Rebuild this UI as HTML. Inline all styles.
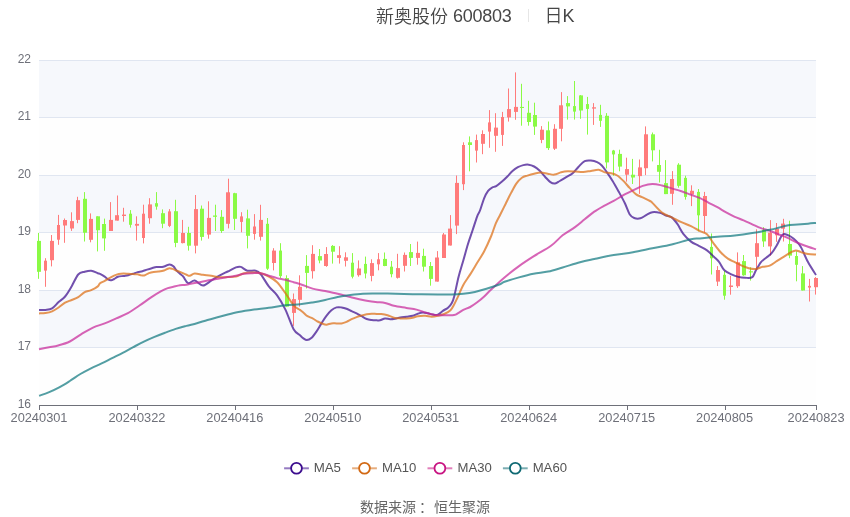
<!DOCTYPE html>
<html><head><meta charset="utf-8"><title>新奥股份 600803 日K</title>
<style>
html,body{margin:0;padding:0;background:#fff;}
body{width:850px;height:517px;overflow:hidden;position:relative;font-family:"Liberation Sans","Noto Sans CJK SC",sans-serif;}
svg{position:absolute;left:0;top:0;}
.title,.src,svg{will-change:transform;}
.ax{font-family:"Liberation Sans",sans-serif;font-size:12px;fill:#6e7079;}
.lg{font-family:"Liberation Sans",sans-serif;font-size:12.4px;fill:#555;}
.title{position:absolute;top:5px;left:376px;height:24px;line-height:24px;font-size:18px;color:#464646;white-space:nowrap;font-weight:350;}
.title .sep{display:inline-block;width:1px;height:12.5px;background:#e6e6e6;vertical-align:middle;position:relative;top:-2.6px;margin:0 14px 0 16.5px;}
.src{position:absolute;top:497px;left:0;width:850px;text-align:center;font-size:14px;line-height:20px;color:#666;font-family:"Liberation Sans","Noto Sans CJK SC",sans-serif;}
</style></head><body>
<svg width="850" height="517" viewBox="0 0 850 517">
<rect x="39" y="60.5" width="777" height="57" fill="#f6f8fc"/>
<rect x="39" y="117.5" width="777" height="58" fill="#fefefe"/>
<rect x="39" y="175.5" width="777" height="57" fill="#f6f8fc"/>
<rect x="39" y="232.5" width="777" height="58" fill="#fefefe"/>
<rect x="39" y="290.5" width="777" height="57" fill="#f6f8fc"/>
<rect x="39" y="347.5" width="777" height="58" fill="#fefefe"/>
<line x1="39" y1="347.5" x2="816" y2="347.5" stroke="#e0e6f1" stroke-width="1"/>
<line x1="39" y1="290.5" x2="816" y2="290.5" stroke="#e0e6f1" stroke-width="1"/>
<line x1="39" y1="232.5" x2="816" y2="232.5" stroke="#e0e6f1" stroke-width="1"/>
<line x1="39" y1="175.5" x2="816" y2="175.5" stroke="#e0e6f1" stroke-width="1"/>
<line x1="39" y1="117.5" x2="816" y2="117.5" stroke="#e0e6f1" stroke-width="1"/>
<line x1="39" y1="60.5" x2="816" y2="60.5" stroke="#e0e6f1" stroke-width="1"/>
<line x1="39" y1="405.5" x2="816.5" y2="405.5" stroke="#6e7079" stroke-width="1"/>
<line x1="39.5" y1="405" x2="39.5" y2="410" stroke="#6e7079" stroke-width="1"/>
<text x="39" y="422" text-anchor="middle" class="ax" textLength="57" lengthAdjust="spacingAndGlyphs">20240301</text>
<line x1="137.5" y1="405" x2="137.5" y2="410" stroke="#6e7079" stroke-width="1"/>
<text x="136.94" y="422" text-anchor="middle" class="ax" textLength="57" lengthAdjust="spacingAndGlyphs">20240322</text>
<line x1="235.5" y1="405" x2="235.5" y2="410" stroke="#6e7079" stroke-width="1"/>
<text x="234.88" y="422" text-anchor="middle" class="ax" textLength="57" lengthAdjust="spacingAndGlyphs">20240416</text>
<line x1="333.5" y1="405" x2="333.5" y2="410" stroke="#6e7079" stroke-width="1"/>
<text x="332.82" y="422" text-anchor="middle" class="ax" textLength="57" lengthAdjust="spacingAndGlyphs">20240510</text>
<line x1="431.5" y1="405" x2="431.5" y2="410" stroke="#6e7079" stroke-width="1"/>
<text x="430.76" y="422" text-anchor="middle" class="ax" textLength="57" lengthAdjust="spacingAndGlyphs">20240531</text>
<line x1="529.5" y1="405" x2="529.5" y2="410" stroke="#6e7079" stroke-width="1"/>
<text x="528.71" y="422" text-anchor="middle" class="ax" textLength="57" lengthAdjust="spacingAndGlyphs">20240624</text>
<line x1="627.5" y1="405" x2="627.5" y2="410" stroke="#6e7079" stroke-width="1"/>
<text x="626.65" y="422" text-anchor="middle" class="ax" textLength="57" lengthAdjust="spacingAndGlyphs">20240715</text>
<line x1="725.5" y1="405" x2="725.5" y2="410" stroke="#6e7079" stroke-width="1"/>
<text x="724.59" y="422" text-anchor="middle" class="ax" textLength="57" lengthAdjust="spacingAndGlyphs">20240805</text>
<line x1="816.5" y1="405" x2="816.5" y2="410" stroke="#6e7079" stroke-width="1"/>
<text x="816" y="422" text-anchor="middle" class="ax" textLength="57" lengthAdjust="spacingAndGlyphs">20240823</text>
<text x="31" y="407.9" text-anchor="end" class="ax">16</text>
<text x="31" y="350.4" text-anchor="end" class="ax">17</text>
<text x="31" y="292.9" text-anchor="end" class="ax">18</text>
<text x="31" y="235.4" text-anchor="end" class="ax">19</text>
<text x="31" y="177.9" text-anchor="end" class="ax">20</text>
<text x="31" y="120.4" text-anchor="end" class="ax">21</text>
<text x="31" y="62.9" text-anchor="end" class="ax">22</text>
<line x1="38.5" y1="232.9" x2="38.5" y2="278.8" stroke="#8afa45" stroke-width="1"/>
<rect x="37" y="240.9" width="4" height="30.9" fill="#8afa45"/>
<line x1="45.5" y1="258.2" x2="45.5" y2="286.8" stroke="#ff7b7b" stroke-width="1"/>
<rect x="44" y="260.7" width="3" height="9.9" fill="#ff7b7b"/>
<line x1="51.5" y1="235" x2="51.5" y2="266.4" stroke="#ff7b7b" stroke-width="1"/>
<rect x="50" y="240.9" width="4" height="19.3" fill="#ff7b7b"/>
<line x1="58.5" y1="214.9" x2="58.5" y2="244.8" stroke="#ff7b7b" stroke-width="1"/>
<rect x="57" y="225" width="3" height="14.7" fill="#ff7b7b"/>
<line x1="64.5" y1="218.5" x2="64.5" y2="242.8" stroke="#ff7b7b" stroke-width="1"/>
<rect x="63" y="220" width="4" height="5.5" fill="#ff7b7b"/>
<line x1="71.5" y1="212.3" x2="71.5" y2="230.9" stroke="#ff7b7b" stroke-width="1"/>
<rect x="70" y="221.1" width="4" height="7.4" fill="#ff7b7b"/>
<line x1="77.5" y1="196.8" x2="77.5" y2="223.2" stroke="#ff7b7b" stroke-width="1"/>
<rect x="76" y="200.2" width="4" height="19.7" fill="#ff7b7b"/>
<line x1="84.5" y1="192.1" x2="84.5" y2="241.5" stroke="#8afa45" stroke-width="1"/>
<rect x="83" y="198.8" width="4" height="33.9" fill="#8afa45"/>
<line x1="90.5" y1="213.4" x2="90.5" y2="242.3" stroke="#ff7b7b" stroke-width="1"/>
<rect x="89" y="218.9" width="4" height="20.9" fill="#ff7b7b"/>
<line x1="97.5" y1="216.3" x2="97.5" y2="251.4" stroke="#8afa45" stroke-width="1"/>
<rect x="96" y="216.3" width="4" height="13.9" fill="#8afa45"/>
<line x1="104.5" y1="218.6" x2="104.5" y2="250.8" stroke="#8afa45" stroke-width="1"/>
<rect x="102" y="224" width="4" height="14.4" fill="#8afa45"/>
<line x1="110.5" y1="202.1" x2="110.5" y2="231" stroke="#ff7b7b" stroke-width="1"/>
<rect x="109" y="219.9" width="4" height="11.1" fill="#ff7b7b"/>
<line x1="117.5" y1="195.5" x2="117.5" y2="220.6" stroke="#ff7b7b" stroke-width="1"/>
<rect x="115" y="215.2" width="4" height="5.4" fill="#ff7b7b"/>
<line x1="123.5" y1="207.8" x2="123.5" y2="221.7" stroke="#ff7b7b" stroke-width="1"/>
<rect x="122" y="214.6" width="4" height="1.4" fill="#ff7b7b"/>
<line x1="130.5" y1="210.1" x2="130.5" y2="227.6" stroke="#8afa45" stroke-width="1"/>
<rect x="129" y="213.7" width="3" height="11.1" fill="#8afa45"/>
<line x1="136.5" y1="216.3" x2="136.5" y2="240.6" stroke="#ff7b7b" stroke-width="1"/>
<rect x="135" y="223.9" width="4" height="1.8" fill="#ff7b7b"/>
<line x1="143.5" y1="204.7" x2="143.5" y2="243.4" stroke="#ff7b7b" stroke-width="1"/>
<rect x="142" y="213.7" width="3" height="24.3" fill="#ff7b7b"/>
<line x1="149.5" y1="198.2" x2="149.5" y2="223.7" stroke="#ff7b7b" stroke-width="1"/>
<rect x="148" y="204.4" width="4" height="13.8" fill="#ff7b7b"/>
<line x1="156.5" y1="192.1" x2="156.5" y2="209.7" stroke="#8afa45" stroke-width="1"/>
<rect x="155" y="203.2" width="3" height="3.4" fill="#8afa45"/>
<line x1="162.5" y1="209.4" x2="162.5" y2="228.2" stroke="#8afa45" stroke-width="1"/>
<rect x="161" y="213.2" width="4" height="10.5" fill="#8afa45"/>
<line x1="169.5" y1="209.1" x2="169.5" y2="227.1" stroke="#ff7b7b" stroke-width="1"/>
<rect x="168" y="211.4" width="3" height="14.5" fill="#ff7b7b"/>
<line x1="175.5" y1="199.8" x2="175.5" y2="247.2" stroke="#8afa45" stroke-width="1"/>
<rect x="174" y="211.2" width="4" height="31.7" fill="#8afa45"/>
<line x1="182.5" y1="219.9" x2="182.5" y2="243.4" stroke="#ff7b7b" stroke-width="1"/>
<rect x="181" y="233" width="4" height="10.1" fill="#ff7b7b"/>
<line x1="188.5" y1="226.8" x2="188.5" y2="250.6" stroke="#8afa45" stroke-width="1"/>
<rect x="187" y="233" width="4" height="12.7" fill="#8afa45"/>
<line x1="195.5" y1="195" x2="195.5" y2="253.4" stroke="#ff7b7b" stroke-width="1"/>
<rect x="194" y="209.1" width="4" height="36.6" fill="#ff7b7b"/>
<line x1="201.5" y1="205.5" x2="201.5" y2="240.6" stroke="#8afa45" stroke-width="1"/>
<rect x="200" y="208.7" width="4" height="28.2" fill="#8afa45"/>
<line x1="208.5" y1="201.3" x2="208.5" y2="238.7" stroke="#ff7b7b" stroke-width="1"/>
<rect x="207" y="217.9" width="4" height="16.7" fill="#ff7b7b"/>
<line x1="215.5" y1="204.7" x2="215.5" y2="231" stroke="#8afa45" stroke-width="1"/>
<rect x="213" y="215.5" width="4" height="1.3" fill="#8afa45"/>
<line x1="221.5" y1="210.1" x2="221.5" y2="232.9" stroke="#8afa45" stroke-width="1"/>
<rect x="220" y="216.8" width="4" height="14.2" fill="#8afa45"/>
<line x1="228.5" y1="178.7" x2="228.5" y2="228.4" stroke="#ff7b7b" stroke-width="1"/>
<rect x="226" y="192.3" width="4" height="31.5" fill="#ff7b7b"/>
<line x1="234.5" y1="192.8" x2="234.5" y2="230" stroke="#8afa45" stroke-width="1"/>
<rect x="233" y="193.2" width="4" height="25.6" fill="#8afa45"/>
<line x1="241.5" y1="212.2" x2="241.5" y2="232.3" stroke="#ff7b7b" stroke-width="1"/>
<rect x="240" y="216.4" width="3" height="5.5" fill="#ff7b7b"/>
<line x1="247.5" y1="209.7" x2="247.5" y2="248.4" stroke="#8afa45" stroke-width="1"/>
<rect x="246" y="218.4" width="4" height="17.4" fill="#8afa45"/>
<line x1="254.5" y1="214.1" x2="254.5" y2="239.7" stroke="#ff7b7b" stroke-width="1"/>
<rect x="253" y="226.5" width="3" height="7.4" fill="#ff7b7b"/>
<line x1="260.5" y1="204.8" x2="260.5" y2="240.6" stroke="#ff7b7b" stroke-width="1"/>
<rect x="259" y="219.9" width="4" height="16.9" fill="#ff7b7b"/>
<line x1="267.5" y1="218" x2="267.5" y2="269.9" stroke="#8afa45" stroke-width="1"/>
<rect x="266" y="223.8" width="3" height="44.9" fill="#8afa45"/>
<line x1="273.5" y1="248.2" x2="273.5" y2="270.4" stroke="#ff7b7b" stroke-width="1"/>
<rect x="272" y="250.6" width="4" height="12.4" fill="#ff7b7b"/>
<line x1="280.5" y1="243.2" x2="280.5" y2="278.1" stroke="#8afa45" stroke-width="1"/>
<rect x="279" y="250.6" width="3" height="25.5" fill="#8afa45"/>
<line x1="286.5" y1="275.3" x2="286.5" y2="306.6" stroke="#8afa45" stroke-width="1"/>
<rect x="285" y="278.1" width="4" height="28.5" fill="#8afa45"/>
<line x1="293.5" y1="293.5" x2="293.5" y2="325.9" stroke="#ff7b7b" stroke-width="1"/>
<rect x="292" y="299.1" width="4" height="13.8" fill="#ff7b7b"/>
<line x1="299.5" y1="275.3" x2="299.5" y2="306.6" stroke="#ff7b7b" stroke-width="1"/>
<rect x="298" y="286.8" width="4" height="13" fill="#ff7b7b"/>
<line x1="306.5" y1="255.1" x2="306.5" y2="288.5" stroke="#8afa45" stroke-width="1"/>
<rect x="305" y="265.9" width="4" height="7" fill="#8afa45"/>
<line x1="312.5" y1="245.2" x2="312.5" y2="278.6" stroke="#ff7b7b" stroke-width="1"/>
<rect x="311" y="253.9" width="4" height="17.3" fill="#ff7b7b"/>
<line x1="319.5" y1="249" x2="319.5" y2="263.3" stroke="#8afa45" stroke-width="1"/>
<rect x="318" y="256.1" width="4" height="4.4" fill="#8afa45"/>
<line x1="326.5" y1="247.1" x2="326.5" y2="266.8" stroke="#ff7b7b" stroke-width="1"/>
<rect x="324" y="254" width="4" height="12" fill="#ff7b7b"/>
<line x1="332.5" y1="245.1" x2="332.5" y2="263.6" stroke="#8afa45" stroke-width="1"/>
<rect x="331" y="245.9" width="4" height="5.8" fill="#8afa45"/>
<line x1="339.5" y1="246.2" x2="339.5" y2="263.6" stroke="#ff7b7b" stroke-width="1"/>
<rect x="337" y="255.2" width="4" height="2.7" fill="#ff7b7b"/>
<line x1="345.5" y1="252.3" x2="345.5" y2="266.5" stroke="#ff7b7b" stroke-width="1"/>
<rect x="344" y="257.3" width="4" height="3.5" fill="#ff7b7b"/>
<line x1="352.5" y1="253.1" x2="352.5" y2="278.4" stroke="#8afa45" stroke-width="1"/>
<rect x="351" y="262.7" width="3" height="14" fill="#8afa45"/>
<line x1="358.5" y1="260.4" x2="358.5" y2="276.7" stroke="#ff7b7b" stroke-width="1"/>
<rect x="357" y="268.5" width="4" height="6.7" fill="#ff7b7b"/>
<line x1="365.5" y1="256.6" x2="365.5" y2="278.4" stroke="#8afa45" stroke-width="1"/>
<rect x="364" y="263.9" width="3" height="9.6" fill="#8afa45"/>
<line x1="371.5" y1="259.3" x2="371.5" y2="281.3" stroke="#ff7b7b" stroke-width="1"/>
<rect x="370" y="263.1" width="4" height="12.8" fill="#ff7b7b"/>
<line x1="378.5" y1="253.1" x2="378.5" y2="270.3" stroke="#ff7b7b" stroke-width="1"/>
<rect x="377" y="259.3" width="3" height="5" fill="#ff7b7b"/>
<line x1="384.5" y1="252.5" x2="384.5" y2="266.2" stroke="#8afa45" stroke-width="1"/>
<rect x="383" y="258.9" width="4" height="7.1" fill="#8afa45"/>
<line x1="391.5" y1="261" x2="391.5" y2="277.3" stroke="#8afa45" stroke-width="1"/>
<rect x="390" y="266.7" width="3" height="7.5" fill="#8afa45"/>
<line x1="397.5" y1="253.8" x2="397.5" y2="278.6" stroke="#ff7b7b" stroke-width="1"/>
<rect x="396" y="268.1" width="4" height="9.7" fill="#ff7b7b"/>
<line x1="404.5" y1="252.5" x2="404.5" y2="271.5" stroke="#ff7b7b" stroke-width="1"/>
<rect x="403" y="254.9" width="4" height="10.9" fill="#ff7b7b"/>
<line x1="410.5" y1="244" x2="410.5" y2="266" stroke="#8afa45" stroke-width="1"/>
<rect x="409" y="252.1" width="4" height="5.8" fill="#8afa45"/>
<line x1="417.5" y1="241.6" x2="417.5" y2="264.7" stroke="#ff7b7b" stroke-width="1"/>
<rect x="416" y="252.9" width="4" height="5" fill="#ff7b7b"/>
<line x1="423.5" y1="248.7" x2="423.5" y2="271.5" stroke="#8afa45" stroke-width="1"/>
<rect x="422" y="255.9" width="4" height="10.8" fill="#8afa45"/>
<line x1="430.5" y1="262" x2="430.5" y2="285.7" stroke="#8afa45" stroke-width="1"/>
<rect x="429" y="266" width="4" height="12.9" fill="#8afa45"/>
<line x1="437.5" y1="251.1" x2="437.5" y2="281.6" stroke="#ff7b7b" stroke-width="1"/>
<rect x="435" y="257.5" width="4" height="24.1" fill="#ff7b7b"/>
<line x1="443.5" y1="233" x2="443.5" y2="258" stroke="#ff7b7b" stroke-width="1"/>
<rect x="442" y="234.5" width="4" height="23.5" fill="#ff7b7b"/>
<line x1="450.5" y1="215.1" x2="450.5" y2="245.5" stroke="#ff7b7b" stroke-width="1"/>
<rect x="448" y="228.6" width="4" height="16.9" fill="#ff7b7b"/>
<line x1="456.5" y1="175.5" x2="456.5" y2="234.1" stroke="#ff7b7b" stroke-width="1"/>
<rect x="455" y="182.9" width="4" height="42.7" fill="#ff7b7b"/>
<line x1="463.5" y1="142.3" x2="463.5" y2="190.1" stroke="#ff7b7b" stroke-width="1"/>
<rect x="462" y="145" width="3" height="39.2" fill="#ff7b7b"/>
<line x1="469.5" y1="136.4" x2="469.5" y2="171.3" stroke="#8afa45" stroke-width="1"/>
<rect x="468" y="142.3" width="4" height="2.7" fill="#8afa45"/>
<line x1="476.5" y1="134.6" x2="476.5" y2="162.5" stroke="#ff7b7b" stroke-width="1"/>
<rect x="475" y="140.1" width="3" height="10.5" fill="#ff7b7b"/>
<line x1="482.5" y1="130.3" x2="482.5" y2="154.2" stroke="#ff7b7b" stroke-width="1"/>
<rect x="481" y="134" width="4" height="9.8" fill="#ff7b7b"/>
<line x1="489.5" y1="110.1" x2="489.5" y2="147.8" stroke="#ff7b7b" stroke-width="1"/>
<rect x="488" y="122.4" width="3" height="9.2" fill="#ff7b7b"/>
<line x1="495.5" y1="113.2" x2="495.5" y2="151.8" stroke="#ff7b7b" stroke-width="1"/>
<rect x="494" y="127.6" width="4" height="8.2" fill="#ff7b7b"/>
<line x1="502.5" y1="111.9" x2="502.5" y2="145.9" stroke="#ff7b7b" stroke-width="1"/>
<rect x="501" y="117" width="3" height="17.9" fill="#ff7b7b"/>
<line x1="508.5" y1="88.5" x2="508.5" y2="121.6" stroke="#ff7b7b" stroke-width="1"/>
<rect x="507" y="109.1" width="4" height="8.3" fill="#ff7b7b"/>
<line x1="515.5" y1="72.4" x2="515.5" y2="119.8" stroke="#ff7b7b" stroke-width="1"/>
<rect x="514" y="106.9" width="4" height="5" fill="#ff7b7b"/>
<line x1="521.5" y1="83.8" x2="521.5" y2="125.7" stroke="#8afa45" stroke-width="1"/>
<rect x="520" y="106.9" width="4" height="1.1" fill="#8afa45"/>
<line x1="528.5" y1="100.8" x2="528.5" y2="125.7" stroke="#8afa45" stroke-width="1"/>
<rect x="527" y="112.8" width="4" height="9.2" fill="#8afa45"/>
<line x1="534.5" y1="102.7" x2="534.5" y2="134.9" stroke="#8afa45" stroke-width="1"/>
<rect x="533" y="115" width="4" height="11.6" fill="#8afa45"/>
<line x1="541.5" y1="126.1" x2="541.5" y2="143.2" stroke="#ff7b7b" stroke-width="1"/>
<rect x="540" y="129.7" width="4" height="10.2" fill="#ff7b7b"/>
<line x1="548.5" y1="121.5" x2="548.5" y2="150" stroke="#8afa45" stroke-width="1"/>
<rect x="546" y="130.3" width="4" height="17.8" fill="#8afa45"/>
<line x1="554.5" y1="124.2" x2="554.5" y2="150" stroke="#ff7b7b" stroke-width="1"/>
<rect x="553" y="128.8" width="4" height="19.9" fill="#ff7b7b"/>
<line x1="561.5" y1="92.1" x2="561.5" y2="141.3" stroke="#ff7b7b" stroke-width="1"/>
<rect x="559" y="105.3" width="4" height="23.5" fill="#ff7b7b"/>
<line x1="567.5" y1="96.1" x2="567.5" y2="119.6" stroke="#8afa45" stroke-width="1"/>
<rect x="566" y="103.1" width="4" height="3.3" fill="#8afa45"/>
<line x1="574.5" y1="81" x2="574.5" y2="119.6" stroke="#8afa45" stroke-width="1"/>
<rect x="573" y="106.1" width="3" height="5.5" fill="#8afa45"/>
<line x1="580.5" y1="95.1" x2="580.5" y2="118.8" stroke="#8afa45" stroke-width="1"/>
<rect x="579" y="95.4" width="4" height="15.1" fill="#8afa45"/>
<line x1="587.5" y1="96.9" x2="587.5" y2="134.6" stroke="#8afa45" stroke-width="1"/>
<rect x="586" y="104.1" width="3" height="4.8" fill="#8afa45"/>
<line x1="593.5" y1="103.1" x2="593.5" y2="124.9" stroke="#ff7b7b" stroke-width="1"/>
<rect x="592" y="107.3" width="4" height="1.3" fill="#ff7b7b"/>
<line x1="600.5" y1="104.8" x2="600.5" y2="126.9" stroke="#8afa45" stroke-width="1"/>
<rect x="599" y="114.9" width="3" height="5.9" fill="#8afa45"/>
<line x1="606.5" y1="113.1" x2="606.5" y2="168.4" stroke="#8afa45" stroke-width="1"/>
<rect x="605" y="115.8" width="4" height="46.6" fill="#8afa45"/>
<line x1="613.5" y1="149.9" x2="613.5" y2="175.8" stroke="#8afa45" stroke-width="1"/>
<rect x="612" y="150.5" width="3" height="3.9" fill="#8afa45"/>
<line x1="619.5" y1="149.7" x2="619.5" y2="171.3" stroke="#8afa45" stroke-width="1"/>
<rect x="618" y="153.9" width="4" height="12.7" fill="#8afa45"/>
<line x1="626.5" y1="157.7" x2="626.5" y2="181.6" stroke="#ff7b7b" stroke-width="1"/>
<rect x="625" y="169.1" width="4" height="5.6" fill="#ff7b7b"/>
<line x1="632.5" y1="158.9" x2="632.5" y2="184" stroke="#8afa45" stroke-width="1"/>
<rect x="631" y="174.7" width="4" height="2.8" fill="#8afa45"/>
<line x1="639.5" y1="159.5" x2="639.5" y2="193.9" stroke="#ff7b7b" stroke-width="1"/>
<rect x="638" y="167.4" width="4" height="8.7" fill="#ff7b7b"/>
<line x1="645.5" y1="126.4" x2="645.5" y2="175.1" stroke="#ff7b7b" stroke-width="1"/>
<rect x="644" y="134.3" width="4" height="33.9" fill="#ff7b7b"/>
<line x1="652.5" y1="132.5" x2="652.5" y2="161.4" stroke="#8afa45" stroke-width="1"/>
<rect x="651" y="134.3" width="4" height="16" fill="#8afa45"/>
<line x1="659.5" y1="149.8" x2="659.5" y2="182.5" stroke="#8afa45" stroke-width="1"/>
<rect x="657" y="165" width="4" height="6.8" fill="#8afa45"/>
<line x1="665.5" y1="160.1" x2="665.5" y2="194.1" stroke="#8afa45" stroke-width="1"/>
<rect x="664" y="183.1" width="4" height="11" fill="#8afa45"/>
<line x1="672.5" y1="171.1" x2="672.5" y2="204.8" stroke="#ff7b7b" stroke-width="1"/>
<rect x="670" y="179" width="4" height="14.8" fill="#ff7b7b"/>
<line x1="678.5" y1="163.2" x2="678.5" y2="187.7" stroke="#8afa45" stroke-width="1"/>
<rect x="677" y="164.7" width="4" height="21.1" fill="#8afa45"/>
<line x1="685.5" y1="175.7" x2="685.5" y2="199.6" stroke="#8afa45" stroke-width="1"/>
<rect x="684" y="177.9" width="3" height="19" fill="#8afa45"/>
<line x1="691.5" y1="185.3" x2="691.5" y2="206.1" stroke="#ff7b7b" stroke-width="1"/>
<rect x="690" y="190.8" width="4" height="3.7" fill="#ff7b7b"/>
<line x1="698.5" y1="189" x2="698.5" y2="231.3" stroke="#8afa45" stroke-width="1"/>
<rect x="697" y="191.9" width="3" height="23.4" fill="#8afa45"/>
<line x1="704.5" y1="191.9" x2="704.5" y2="232.5" stroke="#ff7b7b" stroke-width="1"/>
<rect x="703" y="196" width="4" height="20" fill="#ff7b7b"/>
<line x1="711.5" y1="233.5" x2="711.5" y2="274.5" stroke="#8afa45" stroke-width="1"/>
<rect x="710" y="246.9" width="3" height="11.4" fill="#8afa45"/>
<line x1="717.5" y1="266.1" x2="717.5" y2="286" stroke="#ff7b7b" stroke-width="1"/>
<rect x="716" y="270" width="4" height="11.6" fill="#ff7b7b"/>
<line x1="724.5" y1="271" x2="724.5" y2="299.7" stroke="#8afa45" stroke-width="1"/>
<rect x="723" y="274.8" width="3" height="20.9" fill="#8afa45"/>
<line x1="730.5" y1="275.8" x2="730.5" y2="294.7" stroke="#ff7b7b" stroke-width="1"/>
<rect x="729" y="285.5" width="4" height="1.5" fill="#ff7b7b"/>
<line x1="737.5" y1="252.4" x2="737.5" y2="287.9" stroke="#ff7b7b" stroke-width="1"/>
<rect x="736" y="262.3" width="4" height="23.9" fill="#ff7b7b"/>
<line x1="743.5" y1="255" x2="743.5" y2="275.8" stroke="#8afa45" stroke-width="1"/>
<rect x="742" y="261.1" width="4" height="14.2" fill="#8afa45"/>
<line x1="750.5" y1="267.3" x2="750.5" y2="280.6" stroke="#8afa45" stroke-width="1"/>
<rect x="749" y="271.3" width="4" height="1.1" fill="#8afa45"/>
<line x1="756.5" y1="229.3" x2="756.5" y2="270" stroke="#ff7b7b" stroke-width="1"/>
<rect x="755" y="243.2" width="4" height="13.6" fill="#ff7b7b"/>
<line x1="763.5" y1="227.1" x2="763.5" y2="246.9" stroke="#8afa45" stroke-width="1"/>
<rect x="762" y="229.8" width="4" height="11.6" fill="#8afa45"/>
<line x1="770.5" y1="220.1" x2="770.5" y2="255.6" stroke="#ff7b7b" stroke-width="1"/>
<rect x="768" y="232.6" width="4" height="13.8" fill="#ff7b7b"/>
<line x1="776.5" y1="223" x2="776.5" y2="241.8" stroke="#ff7b7b" stroke-width="1"/>
<rect x="775" y="228.9" width="4" height="6.4" fill="#ff7b7b"/>
<line x1="783.5" y1="218.8" x2="783.5" y2="241.5" stroke="#ff7b7b" stroke-width="1"/>
<rect x="781" y="223.6" width="4" height="5.1" fill="#ff7b7b"/>
<line x1="789.5" y1="220.7" x2="789.5" y2="258.2" stroke="#8afa45" stroke-width="1"/>
<rect x="788" y="244" width="4" height="11.6" fill="#8afa45"/>
<line x1="796.5" y1="251.4" x2="796.5" y2="281.3" stroke="#8afa45" stroke-width="1"/>
<rect x="795" y="256" width="3" height="8.8" fill="#8afa45"/>
<line x1="802.5" y1="266.1" x2="802.5" y2="290.5" stroke="#8afa45" stroke-width="1"/>
<rect x="801" y="273.4" width="4" height="17.1" fill="#8afa45"/>
<line x1="809.5" y1="278.9" x2="809.5" y2="301.5" stroke="#ff7b7b" stroke-width="1"/>
<rect x="808" y="285.9" width="3" height="1.7" fill="#ff7b7b"/>
<line x1="815.5" y1="277.1" x2="815.5" y2="294.6" stroke="#ff7b7b" stroke-width="1"/>
<rect x="814" y="278" width="4" height="9.2" fill="#ff7b7b"/>
<path d="M39,309.9C40.08,309.9 43.32,310.15 45.5,309.9C47.68,309.65 49.92,309.7 52.1,308.4C54.28,307.1 56.43,304.08 58.6,302.1C60.77,300.12 62.93,299.12 65.1,296.5C67.27,293.88 69.42,290.07 71.6,286.4C73.78,282.73 76.02,276.95 78.2,274.5C80.38,272.05 82.53,272.33 84.7,271.7C86.87,271.07 89.02,270.45 91.2,270.7C93.38,270.95 96.33,272.68 97.8,273.2C99.27,273.72 98.85,273.23 100,273.8C101.15,274.37 103.28,275.62 104.7,276.6C106.12,277.58 107.4,279.1 108.5,279.7C109.6,280.3 110.37,280.32 111.3,280.2C112.23,280.08 113,279.57 114.1,279C115.2,278.43 116.33,277.32 117.9,276.8C119.47,276.28 121.78,276.17 123.5,275.9C125.22,275.63 126.63,275.55 128.2,275.2C129.77,274.85 131.33,274.32 132.9,273.8C134.47,273.28 136.02,272.53 137.6,272.1C139.18,271.67 140.82,271.62 142.4,271.2C143.98,270.78 145.53,270.1 147.1,269.6C148.67,269.1 150.23,268.63 151.8,268.2C153.37,267.77 154.78,267.2 156.5,267C158.22,266.8 160.53,267.2 162.1,267C163.67,266.8 164.65,266.23 165.9,265.8C167.15,265.37 168.35,264.32 169.6,264.4C170.85,264.48 172.3,265.35 173.4,266.3C174.5,267.25 175.1,268.85 176.2,270.1C177.3,271.35 178.83,272.73 180,273.8C181.17,274.87 181.85,274.95 183.2,276.5C184.55,278.05 186.18,282.42 188.1,283.1C190.02,283.78 192.22,280.2 194.7,280.6C197.18,281 200.25,285.5 203,285.5C205.75,285.5 208.47,282.23 211.2,280.6C213.93,278.97 216.65,277.22 219.4,275.7C222.15,274.18 224.95,272.88 227.7,271.5C230.45,270.12 233.72,268.17 235.9,267.4C238.08,266.63 238.88,266.35 240.8,266.9C242.72,267.45 244.92,270.07 247.4,270.7C249.88,271.33 253.5,270.15 255.7,270.7C257.9,271.25 258.42,271.38 260.6,274C262.78,276.62 266.05,282.83 268.8,286.4C271.55,289.97 274.35,291.57 277.1,295.4C279.85,299.23 282.55,303.77 285.3,309.4C288.05,315.03 291.15,324.88 293.6,329.2C296.05,333.52 298.42,333.82 300,335.3C301.58,336.78 301.95,337.3 303.1,338.1C304.25,338.9 305.53,340.1 306.9,340.1C308.27,340.1 309.72,339.52 311.3,338.1C312.88,336.68 314.72,334.05 316.4,331.6C318.08,329.15 319.73,326.03 321.4,323.4C323.07,320.77 324.73,318 326.4,315.8C328.07,313.6 329.72,311.6 331.4,310.2C333.08,308.8 334.82,307.87 336.5,307.4C338.18,306.93 339.83,307.18 341.5,307.4C343.17,307.62 344.82,308.07 346.5,308.7C348.18,309.33 349.92,310.43 351.6,311.2C353.28,311.97 354.93,312.47 356.6,313.3C358.27,314.13 359.92,315.25 361.6,316.2C363.28,317.15 365.02,318.37 366.7,319C368.38,319.63 370.03,319.78 371.7,320C373.37,320.22 375.32,320.25 376.7,320.3C378.08,320.35 378.6,320.62 380,320.3C381.4,319.98 383.42,318.58 385.1,318.4C386.78,318.22 388.43,319.15 390.1,319.2C391.77,319.25 393.42,318.98 395.1,318.7C396.78,318.42 398.32,317.83 400.2,317.5C402.08,317.17 404.32,316.98 406.4,316.7C408.48,316.42 410.8,316.3 412.7,315.8C414.6,315.3 416.12,314.25 417.8,313.7C419.48,313.15 421.13,312.57 422.8,312.5C424.47,312.43 426.12,312.95 427.8,313.3C429.48,313.65 431.22,314.38 432.9,314.6C434.58,314.82 436.23,315.23 437.9,314.6C439.57,313.97 441.22,311.95 442.9,310.8C444.58,309.65 446.53,308.95 448,307.7C449.47,306.45 450.67,305.18 451.7,303.3C452.73,301.42 453.05,300.83 454.2,296.4C455.35,291.97 457.08,282.68 458.6,276.7C460.12,270.72 461.75,265.92 463.3,260.5C464.85,255.08 466.35,249.25 467.9,244.2C469.45,239.15 471.05,234.85 472.6,230.2C474.15,225.55 475.97,219.58 477.2,216.3C478.43,213.02 478.85,213.5 480,210.5C481.15,207.5 482.75,201.57 484.1,198.3C485.45,195.03 486.75,192.7 488.1,190.9C489.45,189.1 490.85,188.3 492.2,187.5C493.55,186.7 494.62,187.05 496.2,186.1C497.78,185.15 499.88,183.37 501.7,181.8C503.52,180.23 505.3,178.5 507.1,176.7C508.9,174.9 510.7,172.58 512.5,171C514.3,169.42 516.1,168.18 517.9,167.2C519.7,166.22 521.5,165.52 523.3,165.1C525.1,164.68 526.9,164.47 528.7,164.7C530.5,164.93 532.3,165.52 534.1,166.5C535.9,167.48 537.68,168.9 539.5,170.6C541.32,172.3 543.18,174.78 545,176.7C546.82,178.62 548.72,180.98 550.4,182.1C552.08,183.22 553.53,183.58 555.1,183.4C556.67,183.22 557.95,182.05 559.8,181C561.65,179.95 564.1,178.35 566.2,177.1C568.3,175.85 570.33,175.23 572.4,173.5C574.47,171.77 576.55,168.77 578.6,166.7C580.65,164.63 582.65,162.13 584.7,161.1C586.75,160.07 588.83,160.33 590.9,160.5C592.97,160.67 595.28,161.27 597.1,162.1C598.92,162.93 600.25,163.92 601.8,165.5C603.35,167.08 604.6,169.03 606.4,171.6C608.2,174.17 610.53,177.53 612.6,180.9C614.67,184.27 616.75,188.07 618.8,191.8C620.85,195.53 623.1,199.57 624.9,203.3C626.7,207.03 628.05,211.75 629.6,214.2C631.15,216.65 632.4,217.32 634.2,218C636,218.68 638.33,218.82 640.4,218.3C642.47,217.78 644.6,215.92 646.6,214.9C648.6,213.88 650.15,212.53 652.4,212.2C654.65,211.87 657.85,212.35 660.1,212.9C662.35,213.45 663.97,214.75 665.9,215.5C667.83,216.25 669.77,215.95 671.7,217.4C673.63,218.85 675.57,221.47 677.5,224.2C679.43,226.93 681.05,230.9 683.3,233.8C685.55,236.7 688.42,239.6 691,241.6C693.58,243.6 696.13,244.33 698.8,245.8C701.47,247.27 704.48,248.57 707,250.4C709.52,252.23 711.87,254.85 713.9,256.8C715.93,258.75 717.45,259.85 719.2,262.1C720.95,264.35 722.37,268.27 724.4,270.3C726.43,272.33 729.08,273.2 731.4,274.3C733.72,275.4 735.98,276.32 738.3,276.9C740.62,277.48 742.97,277.75 745.3,277.8C747.63,277.85 750.57,278.37 752.3,277.2C754.03,276.03 754.25,273.32 755.7,270.8C757.15,268.28 759.25,264.28 761,262.1C762.75,259.92 764.47,259.15 766.2,257.7C767.93,256.25 769.65,255.43 771.4,253.4C773.15,251.37 774.95,248.5 776.7,245.5C778.45,242.5 780.45,237.28 781.9,235.4C783.35,233.52 783.95,234.02 785.4,234.2C786.85,234.38 788.87,235.43 790.6,236.5C792.33,237.57 794.07,238.8 795.8,240.6C797.53,242.4 798.97,243.72 801,247.3C803.03,250.88 805.5,257.47 808,262.1C810.5,266.73 814.67,272.93 816,275.1" fill="none" stroke="#3c0d8e" stroke-opacity="0.72" stroke-width="2" stroke-linejoin="round"/>
<path d="M39,313.4C40.08,313.33 43.32,313.35 45.5,313C47.68,312.65 49.92,312.22 52.1,311.3C54.28,310.38 56.43,308.93 58.6,307.5C60.77,306.07 62.93,303.95 65.1,302.7C67.27,301.45 69.42,300.93 71.6,300C73.78,299.07 76.02,298.42 78.2,297.1C80.38,295.78 82.53,293.25 84.7,292.1C86.87,290.95 89.02,291.15 91.2,290.2C93.38,289.25 96.33,287.57 97.8,286.4C99.27,285.23 98.85,284.12 100,283.2C101.15,282.28 103.13,281.75 104.7,280.9C106.27,280.05 107.83,278.97 109.4,278.1C110.97,277.23 112.53,276.37 114.1,275.7C115.67,275.03 117.23,274.45 118.8,274.1C120.37,273.75 121.93,273.65 123.5,273.6C125.07,273.55 126.63,273.72 128.2,273.8C129.77,273.88 131.33,274.02 132.9,274.1C134.47,274.18 136.33,274.12 137.6,274.3C138.87,274.48 139.4,275 140.5,275.2C141.6,275.4 142.8,275.85 144.2,275.5C145.6,275.15 147.33,273.7 148.9,273.1C150.47,272.5 152.02,272.17 153.6,271.9C155.18,271.63 156.67,271.73 158.4,271.5C160.13,271.27 162.28,271.02 164,270.5C165.72,269.98 167.28,268.67 168.7,268.4C170.12,268.13 171.25,268.55 172.5,268.9C173.75,269.25 174.95,270 176.2,270.5C177.45,271 178.28,271.18 180,271.9C181.72,272.62 184.87,274.17 186.5,274.8C188.13,275.43 188.43,275.92 189.8,275.7C191.17,275.48 192.5,273.65 194.7,273.5C196.9,273.35 200.25,274.43 203,274.8C205.75,275.17 208.47,275.28 211.2,275.7C213.93,276.12 216.65,277.08 219.4,277.3C222.15,277.52 224.95,277.13 227.7,277C230.45,276.87 233.17,277.13 235.9,276.5C238.63,275.87 241.35,273.88 244.1,273.2C246.85,272.52 249.65,272.4 252.4,272.4C255.15,272.4 257.87,272.52 260.6,273.2C263.33,273.88 266.05,275 268.8,276.5C271.55,278 274.35,279.45 277.1,282.2C279.85,284.95 282.55,289.15 285.3,293C288.05,296.85 291.15,302.48 293.6,305.3C296.05,308.12 298.3,308.62 300,309.9C301.7,311.18 302.55,311.95 303.8,313C305.05,314.05 306.03,315.3 307.5,316.2C308.97,317.1 310.92,317.52 312.6,318.4C314.28,319.28 315.93,320.6 317.6,321.5C319.27,322.4 321.13,323.27 322.6,323.8C324.07,324.33 324.93,324.77 326.4,324.7C327.87,324.63 329.72,323.62 331.4,323.4C333.08,323.18 334.82,323.4 336.5,323.4C338.18,323.4 339.83,323.67 341.5,323.4C343.17,323.13 344.82,322.5 346.5,321.8C348.18,321.1 349.92,319.98 351.6,319.2C353.28,318.42 354.93,317.72 356.6,317.1C358.27,316.48 359.92,315.98 361.6,315.5C363.28,315.02 365.02,314.5 366.7,314.2C368.38,313.9 370.03,313.73 371.7,313.7C373.37,313.67 375.1,313.95 376.7,314C378.3,314.05 379.48,313.8 381.3,314C383.12,314.2 385.5,314.58 387.6,315.2C389.7,315.82 391.8,317.17 393.9,317.7C396,318.23 398.12,318.28 400.2,318.4C402.28,318.52 404.32,318.52 406.4,318.4C408.48,318.28 410.8,318.07 412.7,317.7C414.6,317.33 415.7,316.52 417.8,316.2C419.9,315.88 423,315.72 425.3,315.8C427.6,315.88 429.5,316.7 431.6,316.7C433.7,316.7 435.8,316.25 437.9,315.8C440,315.35 442.1,314.93 444.2,314C446.3,313.07 448.87,311.75 450.5,310.2C452.13,308.65 452.65,307.18 454,304.7C455.35,302.22 457.05,298.6 458.6,295.3C460.15,292 461.37,288.38 463.3,284.9C465.23,281.42 467.88,278.08 470.2,274.4C472.52,270.72 474.87,266.67 477.2,262.8C479.53,258.93 481.87,255.67 484.2,251.2C486.53,246.73 489.27,240.65 491.2,236C493.13,231.35 494.28,226.88 495.8,223.3C497.32,219.72 498.65,217.77 500.3,214.5C501.95,211.23 503.9,207.3 505.7,203.7C507.5,200.1 509.3,196.28 511.1,192.9C512.9,189.52 514.7,185.93 516.5,183.4C518.3,180.87 520.08,179 521.9,177.7C523.72,176.4 525.37,176.27 527.4,175.6C529.43,174.93 531.85,174.2 534.1,173.7C536.35,173.2 538.63,172.6 540.9,172.6C543.17,172.6 545.45,173.37 547.7,173.7C549.95,174.03 552.15,174.83 554.4,174.6C556.65,174.37 558.98,172.85 561.2,172.3C563.42,171.75 565.32,171.42 567.7,171.3C570.08,171.18 572.92,171.48 575.5,171.6C578.08,171.72 580.63,172.12 583.2,172C585.77,171.88 588.32,171.27 590.9,170.9C593.48,170.53 596.38,169.55 598.7,169.8C601.02,170.05 602.75,171.83 604.8,172.4C606.85,172.97 608.93,172.68 611,173.2C613.07,173.72 615.13,174.22 617.2,175.5C619.27,176.78 621.33,178.83 623.4,180.9C625.47,182.97 627.53,185.7 629.6,187.9C631.67,190.1 633.73,192.55 635.8,194.1C637.87,195.65 639.63,196.05 642,197.2C644.37,198.35 648.27,200.05 650,201C651.73,201.95 650.4,200.97 652.4,202.9C654.4,204.83 658.78,210.18 662,212.6C665.22,215.02 668.47,215.8 671.7,217.4C674.93,219 678.18,220.75 681.4,222.2C684.62,223.65 687.9,224.6 691,226.1C694.1,227.6 697.33,229.85 700,231.2C702.67,232.55 704.68,232.1 707,234.2C709.32,236.3 711.58,240.75 713.9,243.8C716.22,246.85 718.57,250.03 720.9,252.5C723.23,254.97 725.58,257 727.9,258.6C730.22,260.2 732.48,260.93 734.8,262.1C737.12,263.27 739.47,264.58 741.8,265.6C744.13,266.62 746.48,267.63 748.8,268.2C751.12,268.77 753.38,269.23 755.7,269C758.02,268.77 760.37,267.37 762.7,266.8C765.03,266.23 767.37,266.53 769.7,265.6C772.03,264.67 774.38,262.67 776.7,261.2C779.02,259.73 781.28,258.25 783.6,256.8C785.92,255.35 788.57,253.57 790.6,252.5C792.63,251.43 794.07,250.47 795.8,250.4C797.53,250.33 798.97,251.52 801,252.1C803.03,252.68 805.5,253.48 808,253.9C810.5,254.32 814.67,254.48 816,254.6" fill="none" stroke="#dc6e14" stroke-opacity="0.72" stroke-width="2" stroke-linejoin="round"/>
<path d="M39,349.2C40.67,348.88 45.8,347.92 49,347.3C52.2,346.68 54.73,346.47 58.2,345.5C61.67,344.53 65.93,343.4 69.8,341.5C73.67,339.6 77.53,336.42 81.4,334.1C85.27,331.78 89.12,329.38 93,327.6C96.88,325.82 100.82,324.95 104.7,323.4C108.58,321.85 112.43,320 116.3,318.3C120.17,316.6 124.03,315.33 127.9,313.2C131.77,311.07 135.63,308.13 139.5,305.5C143.37,302.87 147.48,299.78 151.1,297.4C154.72,295.02 158.42,292.75 161.2,291.2C163.98,289.65 165.77,288.83 167.8,288.1C169.83,287.37 171.37,287.27 173.4,286.8C175.43,286.33 177.82,285.65 180,285.3C182.18,284.95 182.67,285.35 186.5,284.7C190.33,284.05 197.52,282.43 203,281.4C208.48,280.37 213.92,279.45 219.4,278.5C224.88,277.55 231.78,276.5 235.9,275.7C240.02,274.9 241.35,274.12 244.1,273.7C246.85,273.28 249.65,273.28 252.4,273.2C255.15,273.12 257.87,272.78 260.6,273.2C263.33,273.62 266.05,274.88 268.8,275.7C271.55,276.52 274.35,277.42 277.1,278.1C279.85,278.78 282.55,279.12 285.3,279.8C288.05,280.48 290.85,281.38 293.6,282.2C296.35,283.02 298.63,283.63 301.8,284.7C304.97,285.77 308.7,287.53 312.6,288.6C316.5,289.67 321.02,290.23 325.2,291.1C329.38,291.97 333.52,292.82 337.7,293.8C341.88,294.78 346.1,295.95 350.3,297C354.5,298.05 358.7,299.27 362.9,300.1C367.1,300.93 371.8,301.53 375.5,302C379.2,302.47 382.03,302.27 385.1,302.9C388.17,303.53 390.35,304.97 393.9,305.8C397.45,306.63 402.63,307.27 406.4,307.9C410.17,308.53 413.35,308.83 416.5,309.6C419.65,310.37 422.78,311.73 425.3,312.5C427.82,313.27 429.5,313.75 431.6,314.2C433.7,314.65 435.8,315.03 437.9,315.2C440,315.37 441.52,315.22 444.2,315.2C446.88,315.18 451.6,315.5 454,315.1C456.4,314.7 457.05,313.68 458.6,312.8C460.15,311.92 461.37,310.77 463.3,309.8C465.23,308.83 467.88,308.25 470.2,307C472.52,305.75 474.87,304.05 477.2,302.3C479.53,300.55 481.87,298.63 484.2,296.5C486.53,294.37 487.82,292.68 491.2,289.5C494.58,286.32 499.87,281.3 504.5,277.4C509.13,273.5 514.17,269.6 519,266.1C523.83,262.6 528.17,259.78 533.5,256.4C538.83,253.02 546.15,249.32 551,245.8C555.85,242.28 558.6,238.42 562.6,235.3C566.6,232.18 571.32,229.77 575,227.1C578.68,224.43 581.48,221.88 584.7,219.3C587.92,216.72 591.08,213.85 594.3,211.6C597.52,209.35 600.77,207.58 604,205.8C607.23,204.02 610.47,202.68 613.7,200.9C616.93,199.12 620.18,196.87 623.4,195.1C626.62,193.33 629.78,191.83 633,190.3C636.22,188.77 639.47,186.97 642.7,185.9C645.93,184.83 649.18,183.97 652.4,183.9C655.62,183.83 658.78,184.75 662,185.5C665.22,186.25 668.47,187.43 671.7,188.4C674.93,189.37 678.18,190.23 681.4,191.3C684.62,192.37 687.9,193.67 691,194.8C694.1,195.93 697.05,196.77 700,198.1C702.95,199.43 705.8,201.28 708.7,202.8C711.6,204.32 714.5,205.6 717.4,207.2C720.3,208.8 723.2,210.8 726.1,212.4C729,214 731.88,215.48 734.8,216.8C737.72,218.12 740.68,219.05 743.6,220.3C746.52,221.55 749.4,223 752.3,224.3C755.2,225.6 758.1,227.03 761,228.1C763.9,229.17 766.8,229.68 769.7,230.7C772.6,231.72 775.5,233.03 778.4,234.2C781.3,235.37 784.2,236.4 787.1,237.7C790,239 792.9,240.7 795.8,242C798.7,243.3 801.13,244.27 804.5,245.5C807.87,246.73 814.08,248.75 816,249.4" fill="none" stroke="#c8289a" stroke-opacity="0.72" stroke-width="2" stroke-linejoin="round"/>
<path d="M39.1,395.8C40.68,395.23 45.25,393.8 48.6,392.4C51.95,391 55.67,389.3 59.2,387.4C62.73,385.5 66.27,383.23 69.8,381C73.33,378.77 76.87,376.12 80.4,374C83.93,371.88 87.47,370.07 91,368.3C94.53,366.53 98.08,365.1 101.6,363.4C105.12,361.7 108.58,359.87 112.1,358.1C115.62,356.33 119.17,354.63 122.7,352.8C126.23,350.97 129.77,348.97 133.3,347.1C136.83,345.23 140.37,343.3 143.9,341.6C147.43,339.9 150.97,338.38 154.5,336.9C158.03,335.42 161.57,334.03 165.1,332.7C168.63,331.37 172.17,330.03 175.7,328.9C179.23,327.77 182.77,326.85 186.3,325.9C189.83,324.95 193.37,324.18 196.9,323.2C200.43,322.22 203.75,321.07 207.5,320C211.25,318.93 214.67,318.07 219.4,316.8C224.13,315.53 230.4,313.57 235.9,312.4C241.4,311.23 246.92,310.57 252.4,309.8C257.88,309.03 263.32,308.55 268.8,307.8C274.28,307.05 280.1,305.88 285.3,305.3C290.5,304.72 295.45,304.78 300,304.3C304.55,303.82 308.4,303.13 312.6,302.4C316.8,301.67 321.02,300.8 325.2,299.9C329.38,299 333.52,297.8 337.7,297C341.88,296.2 346.1,295.63 350.3,295.1C354.5,294.57 358.7,294.05 362.9,293.8C367.1,293.55 371.38,293.63 375.5,293.6C379.62,293.57 381.4,293.5 387.6,293.6C393.8,293.7 404.32,294.07 412.7,294.2C421.08,294.33 431.42,294.35 437.9,294.4C444.38,294.45 447.37,294.62 451.6,294.5C455.83,294.38 459.42,294.13 463.3,293.7C467.18,293.27 471.03,292.72 474.9,291.9C478.77,291.08 482.32,290.08 486.5,288.8C490.68,287.52 497,285.37 500,284.2C503,283.03 501.33,282.93 504.5,281.8C507.67,280.67 514.17,278.73 519,277.4C523.83,276.07 528.65,274.77 533.5,273.8C538.35,272.83 543.25,272.65 548.1,271.6C552.95,270.55 557.28,269.07 562.6,267.5C567.92,265.93 574.72,263.62 580,262.2C585.28,260.78 588.68,260.18 594.3,259C599.92,257.82 607.25,256.23 613.7,255.1C620.15,253.97 626.55,253.33 633,252.2C639.45,251.07 645.95,249.58 652.4,248.3C658.85,247.02 665.27,246.02 671.7,244.5C678.13,242.98 686.28,240.22 691,239.2C695.72,238.18 695.6,238.8 700,238.4C704.4,238 711.6,237.3 717.4,236.8C723.2,236.3 728.98,236.03 734.8,235.4C740.62,234.77 746.48,233.93 752.3,233C758.12,232.07 765.35,230.67 769.7,229.8C774.05,228.93 775.5,228.52 778.4,227.8C781.3,227.08 783.9,226.03 787.1,225.5C790.3,224.97 794.12,224.9 797.6,224.6C801.08,224.3 804.93,223.98 808,223.7C811.07,223.42 814.67,223.03 816,222.9" fill="none" stroke="#107880" stroke-opacity="0.72" stroke-width="2" stroke-linejoin="round"/>
<line x1="284.1" y1="468.3" x2="308.9" y2="468.3" stroke="#3c0d8e" stroke-opacity="0.55" stroke-width="2"/>
<circle cx="296.5" cy="468.2" r="5.4" fill="#fff" stroke="#3c0d8e" stroke-width="1.8"/>
<text x="313.7" y="472" class="lg" textLength="27.3" lengthAdjust="spacingAndGlyphs">MA5</text>
<line x1="352.1" y1="468.3" x2="376.9" y2="468.3" stroke="#d26914" stroke-opacity="0.55" stroke-width="2"/>
<circle cx="364.5" cy="468.2" r="5.4" fill="#fff" stroke="#d26914" stroke-width="1.8"/>
<text x="382.1" y="472" class="lg" textLength="34.3" lengthAdjust="spacingAndGlyphs">MA10</text>
<line x1="427.5" y1="468.3" x2="452.3" y2="468.3" stroke="#c81482" stroke-opacity="0.55" stroke-width="2"/>
<circle cx="439.9" cy="468.2" r="5.4" fill="#fff" stroke="#c81482" stroke-width="1.8"/>
<text x="457.5" y="472" class="lg" textLength="34.3" lengthAdjust="spacingAndGlyphs">MA30</text>
<line x1="502.9" y1="468.3" x2="527.7" y2="468.3" stroke="#0f6973" stroke-opacity="0.55" stroke-width="2"/>
<circle cx="515.3" cy="468.2" r="5.4" fill="#fff" stroke="#0f6973" stroke-width="1.8"/>
<text x="532.7" y="472" class="lg" textLength="34.3" lengthAdjust="spacingAndGlyphs">MA60</text>
</svg>
<div class="title">新奥股份 <span style="position:relative;top:-1px;letter-spacing:-0.25px">600803</span><span class="sep"></span><span style="position:relative;top:-0.8px;left:1.3px">日K</span></div>
<div class="src">数据来源<span style="position:relative;left:3px">：</span> 恒生聚源</div>
</body></html>
